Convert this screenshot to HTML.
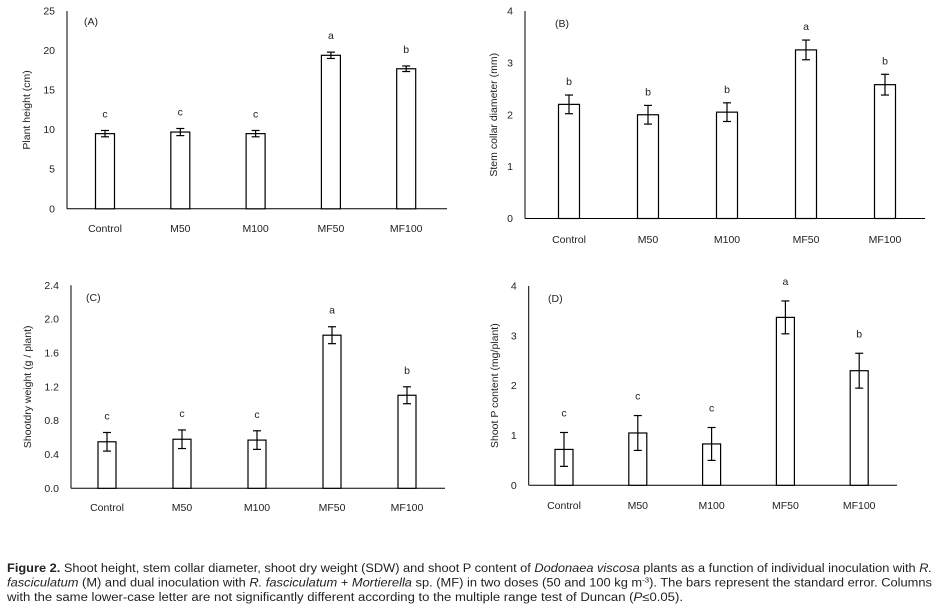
<!DOCTYPE html>
<html><head><meta charset="utf-8"><style>
html,body{margin:0;padding:0;background:#fff;}
svg{display:block;font-family:"Liberation Sans",sans-serif;}
.tick{font-size:10.5px;fill:#222;}
.cat{font-size:10.5px;fill:#222;}
.let{font-size:10.5px;fill:#222;}
.cap{font-size:11.5px;fill:#222;}
</style></head><body>
<svg id="fig" width="940" height="607" viewBox="0 0 940 607" xmlns="http://www.w3.org/2000/svg">
<g id="charts"></g>
<g>
<text class="cap" x="7" y="572" textLength="925" lengthAdjust="spacingAndGlyphs"><tspan font-weight="bold">Figure 2.</tspan> Shoot height, stem collar diameter, shoot dry weight (SDW) and shoot P content of <tspan font-style="italic">Dodonaea viscosa</tspan> plants as a function of individual inoculation with <tspan font-style="italic">R.</tspan></text>
<text class="cap" x="7" y="586.5" textLength="925" lengthAdjust="spacingAndGlyphs"><tspan font-style="italic">fasciculatum</tspan> (M) and dual inoculation with <tspan font-style="italic">R. fasciculatum</tspan> + <tspan font-style="italic">Mortierella</tspan> sp. (MF) in two doses (50 and 100 kg m<tspan font-size="7" dy="-4">-3</tspan><tspan dy="4">). The bars represent the standard error. Columns</tspan></text>
<text class="cap" x="7" y="601" textLength="676" lengthAdjust="spacingAndGlyphs">with the same lower-case letter are not significantly different according to the multiple range test of Duncan (<tspan font-style="italic">P</tspan>≤0.05).</text>
</g>
</svg>
<script>
const categories = ["Control","M50","M100","MF50","MF100"];
const valuesA = [9.5, 9.7, 9.5, 19.4, 17.7];
const errorsA = [0.4, 0.45, 0.4, 0.4, 0.35];
const lettersA = ["c","c","c","a","b"];
const ticksA = ["0","5","10","15","20","25"];
const valuesB = [2.2, 2.0, 2.05, 3.25, 2.58];
const errorsB = [0.18, 0.18, 0.18, 0.19, 0.2];
const lettersB = ["b","b","b","a","b"];
const ticksB = ["0","1","2","3","4"];
const valuesC = [0.55, 0.58, 0.57, 1.81, 1.1];
const errorsC = [0.11, 0.11, 0.11, 0.1, 0.1];
const lettersC = ["c","c","c","a","b"];
const ticksC = ["0.0","0.4","0.8","1.2","1.6","2.0","2.4"];
const valuesD = [0.72, 1.05, 0.83, 3.37, 2.3];
const errorsD = [0.34, 0.35, 0.33, 0.33, 0.35];
const lettersD = ["c","c","c","a","b"];
const ticksD = ["0","1","2","3","4"];

const NS = "http://www.w3.org/2000/svg";
const root = document.getElementById("charts");
function mk(tag, attrs, parent, text){
  const e = document.createElementNS(NS, tag);
  for (const k in attrs) e.setAttribute(k, attrs[k]);
  if (text !== undefined) e.textContent = text;
  parent.appendChild(e);
  return e;
}
const panels = [
  {id:"a", label:"(A)", title:"Plant height (cm)", vals:valuesA, errs:errorsA, lets:lettersA, ticks:ticksA, max:25,
   ax:67, top:11, bottom:208.8, right:447, x0:105, step:75.3, bw:19, catY:232, titleX:30, lblX:84, lblY:25, letOff:17},
  {id:"b", label:"(B)", title:"Stem collar diameter (mm)", vals:valuesB, errs:errorsB, lets:lettersB, ticks:ticksB, max:4,
   ax:525, top:11, bottom:218.5, right:925, x0:569, step:79, bw:21, catY:243, titleX:497, lblX:555, lblY:27, letOff:14},
  {id:"c", label:"(C)", title:"Shootdry weight (g / plant)", vals:valuesC, errs:errorsC, lets:lettersC, ticks:ticksC, max:2.4,
   ax:71, top:285.3, bottom:488.3, right:445, x0:107, step:75, bw:18, catY:511, titleX:31, lblX:86, lblY:301, letOff:17},
  {id:"d", label:"(D)", title:"Shoot P content (mg/plant)", vals:valuesD, errs:errorsD, lets:lettersD, ticks:ticksD, max:4,
   ax:528.7, top:286, bottom:485.3, right:897, x0:564, step:73.8, bw:18, catY:509, titleX:498, lblX:548, lblY:302, letOff:20}
];
panels.forEach(p=>{
  const g = mk("g", {}, root);
  
  
  const y = v => p.bottom - (v / p.max) * (p.bottom - p.top);
  const x = i => p.x0 + i * p.step;
  const ya = mk("line", {x1:p.ax, y1:p.top, x2:p.ax, y2:p.bottom, stroke:"#000", "stroke-width":1}, g);
  
  
  const xa = mk("line", {x1:p.ax, y1:p.bottom, x2:p.right, y2:p.bottom, stroke:"#000", "stroke-width":1}, g);
  
  
  const n = p.ticks.length - 1;
  p.ticks.forEach((t, k)=>{
    const v = p.max * k / n;
    const ty = y(v);
    const tt = mk("text", {x:p.ax-12, y:ty+3.5, "text-anchor":"end", class:"tick"}, g, t);
    
    
  });
  const tcx = p.titleX, tcy = (p.top + p.bottom) / 2;
  const title = mk("text", {x:tcx, y:tcy, "text-anchor":"middle", class:"tick", transform:"rotate(-90 "+tcx+" "+tcy+")"}, g, p.title);
  
  
  const pl = mk("text", {x:p.lblX, y:p.lblY, class:"tick"}, g, p.label);
  
  
  categories.forEach((c, i)=>{
    const cx = x(i), v = p.vals[i], e = p.errs[i];
    const bar = mk("rect", {x:cx - p.bw/2, y:y(v), width:p.bw, height:p.bottom - y(v), fill:"#fff", stroke:"#000", "stroke-width":1.2}, g);
    
    
    const eg = mk("g", {stroke:"#000", "stroke-width":1.2}, g);
    
    
    mk("line", {x1:cx, y1:y(v+e), x2:cx, y2:y(v-e)}, eg);
    mk("line", {x1:cx-4, y1:y(v+e), x2:cx+4, y2:y(v+e)}, eg);
    mk("line", {x1:cx-4, y1:y(v-e), x2:cx+4, y2:y(v-e)}, eg);
    const lt = mk("text", {x:cx, y:y(v+e) - p.letOff + 4, "text-anchor":"middle", class:"let"}, g, p.lets[i]);
    
    
    const cl = mk("text", {x:cx, y:p.catY, "text-anchor":"middle", class:"cat"}, g, c);
    
    
  });
});
</script>
</body></html>
